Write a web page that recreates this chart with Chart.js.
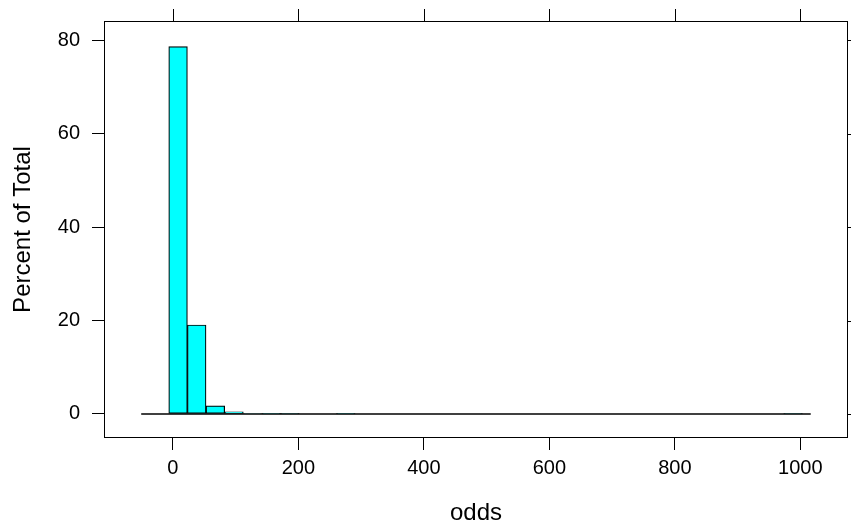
<!DOCTYPE html>
<html>
<head>
<meta charset="utf-8">
<script src="https://cdn.jsdelivr.net/npm/chart.js@4/dist/chart.umd.min.js"></script>
<style>
  html, body { margin: 0; padding: 0; background: #fff; }
  #wrap { width: 851px; height: 528px; }
</style>
</head>
<body>
<div id="wrap"><canvas id="histo"></canvas></div>
<script>
// histogram bin edges (odds) and percent of total per bin
const breaks = [-6.5, 23.2, 52.9, 82.6, 112.3, 142, 171.7, 201.4, 231.1, 260.8, 290.5,
    320.2, 349.9, 379.6, 409.3, 439, 468.7, 498.4, 528.1, 557.8, 587.5, 617.2, 646.9,
    676.6, 706.3, 736, 765.7, 795.4, 825.1, 854.8, 884.5, 914.2, 943.9, 973.6, 1003.3];
const percents = [78.6, 19.05, 1.72, 0.45, 0.1, 0.02, 0.01, 0, 0, 0.02, 0,
    0, 0, 0, 0, 0, 0, 0, 0, 0, 0, 0, 0,
    0, 0, 0, 0, 0, 0, 0, 0, 0, 0, 0.01];
// span of the zero-height baseline drawn by the histogram
const baseFrom = -50.4;
const baseTo = 1016.6;
const xTicks = [0, 200, 400, 600, 800, 1000];
const yTicks = [0, 20, 40, 60, 80];

const binPoints = percents.map((p, i) => ({ x: (breaks[i] + breaks[i + 1]) / 2, y: p }));

Chart.defaults.font.family = "'Liberation Sans', Arial, sans-serif";
Chart.defaults.font.size = 20;
Chart.defaults.color = '#000';

// box round the panel plus the unlabeled ticks on top and right
const boxTicks = {
    id: 'boxTicks',
    afterDraw(chart) {
        const { ctx, chartArea: a, scales } = chart;
        ctx.save();
        ctx.strokeStyle = '#000';
        ctx.lineWidth = 1;
        ctx.strokeRect(a.left + 0.5, a.top + 0.5, a.right - a.left - 1, a.bottom - a.top - 1);
        ctx.beginPath();
        xTicks.forEach(v => {
            const px = Math.round(scales.x.getPixelForValue(v)) + 0.5;
            ctx.moveTo(px, a.top);
            ctx.lineTo(px, a.top - 12);
        });
        yTicks.forEach(v => {
            const py = Math.round(scales.y.getPixelForValue(v)) + 0.5;
            ctx.moveTo(a.right, py);
            ctx.lineTo(a.right + 12, py);
        });
        ctx.stroke();
        ctx.restore();
    }
};

new Chart(document.getElementById('histo'), {
    type: 'bar',
    data: {
        datasets: [{
            type: 'line',
            data: [{ x: baseFrom, y: 0 }, { x: baseTo, y: 0 }],
            borderColor: '#000',
            borderWidth: 1.5,
            pointRadius: 0
        }, {
            type: 'bar',
            data: binPoints,
            backgroundColor: '#00FFFF',
            borderColor: '#000',
            borderWidth: 1.2,
            borderSkipped: false,
            barPercentage: 1,
            categoryPercentage: 1
        }]
    },
    options: {
        responsive: true,
        maintainAspectRatio: false,
        animation: false,
        layout: { padding: { left: 0, right: 3, top: 21, bottom: 0 } },
        plugins: {
            legend: { display: false },
            tooltip: { enabled: false }
        },
        scales: {
            x: {
                type: 'linear',
                offset: false,
                min: -109.7,
                max: 1076,
                afterBuildTicks: s => { s.ticks = xTicks.map(v => ({ value: v })); },
                afterFit: s => { s.height = 90; },
                grid: { offset: false, drawOnChartArea: false, drawTicks: true, tickLength: 12, color: '#000' },
                border: { display: false },
                ticks: { padding: 6, maxRotation: 0, callback: v => String(v) },
                title: { display: true, text: 'odds', font: { size: 24 }, padding: { top: 0, bottom: 0 } }
            },
            y: {
                type: 'linear',
                min: -5.14,
                max: 84.1,
                afterBuildTicks: s => { s.ticks = yTicks.map(v => ({ value: v })); },
                afterFit: s => { s.width = 104; s.paddingTop = 0; s.paddingBottom = 0; },
                grid: { drawOnChartArea: false, drawTicks: true, tickLength: 12, color: '#000' },
                border: { display: false },
                ticks: { padding: 12, callback: v => String(v) },
                title: { display: true, text: 'Percent of Total', font: { size: 24 }, padding: { top: 9, bottom: 0 } }
            }
        }
    },
    plugins: [boxTicks]
});
</script>
</body>
</html>
